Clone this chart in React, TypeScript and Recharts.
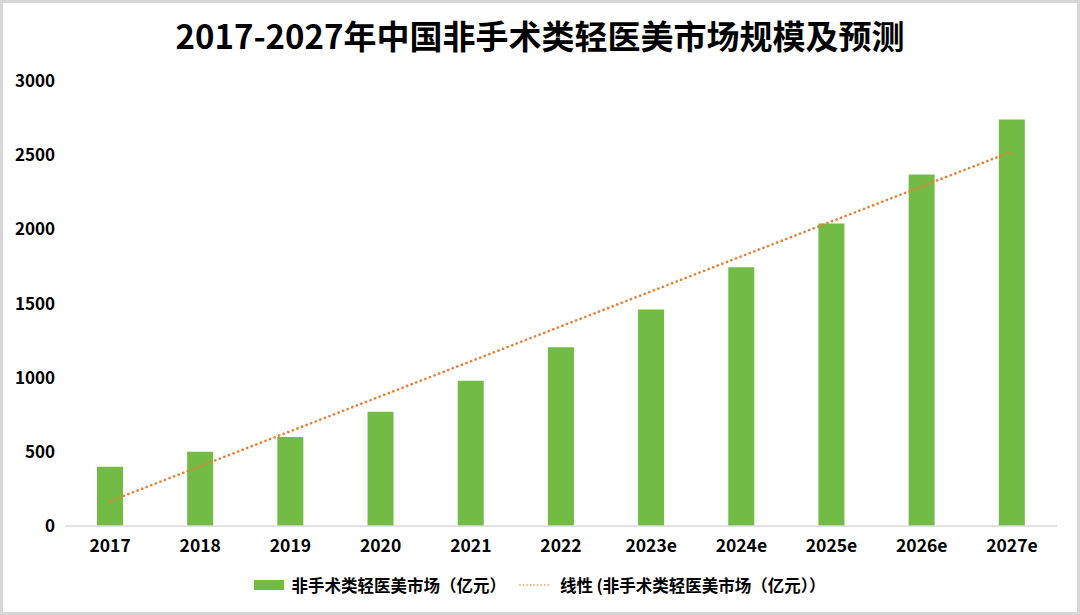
import { Bar, ComposedChart, Line, XAxis, YAxis } from "recharts";

const years = ["2017", "2018", "2019", "2020", "2021", "2022", "2023e", "2024e", "2025e", "2026e", "2027e"];
const marketSize = [400, 500, 600, 770, 980, 1205, 1460, 1745, 2040, 2370, 2740];
const yTicks = [0, 500, 1000, 1500, 2000, 2500, 3000];

const seriesName = "非手术类轻医美市场（亿元）";
const trendName = "线性 (非手术类轻医美市场（亿元））";

// linear trendline (least squares), like the spreadsheet's "线性" trend
const n = marketSize.length;
const meanX = (n - 1) / 2;
const meanY = marketSize.reduce((a, b) => a + b, 0) / n;
let sxy = 0;
let sxx = 0;
marketSize.forEach((v, i) => {
  sxy += (i - meanX) * (v - meanY);
  sxx += (i - meanX) * (i - meanX);
});
const slope = sxy / sxx;
const intercept = meanY - slope * meanX;

const data = years.map((year, i) => ({
  year,
  value: marketSize[i],
  trend: intercept + slope * i,
}));

const FONT = '"Noto Sans CJK SC", "Noto Sans", sans-serif';
const GREEN = "#72BB45";
const ORANGE = "#ED7D31";

export default function App() {
  return (
    <div style={{ position: "relative", width: 1080, height: 615, background: "#fff", fontFamily: FONT }}>
      <style>{"body{margin:0}"}</style>
      <div
        style={{
          position: "absolute",
          top: 0,
          left: 0,
          width: 1080,
          textAlign: "center",
          lineHeight: "70px",
          fontSize: 33,
          fontWeight: 700,
          color: "#000",
        }}
      >
        2017-2027年中国非手术类轻医美市场规模及预测
      </div>

      <div style={{ position: "absolute", top: 0, left: 0 }}>
        <ComposedChart width={1080} height={615} data={data} margin={{ top: 81, right: 23, bottom: 0, left: 0 }}>
          <XAxis
            dataKey="year"
            height={89}
            tickLine={false}
            tickSize={0}
            tickMargin={14}
            axisLine={{ stroke: "#d9d9d9", strokeWidth: 1.5 }}
            tick={{ fill: "#000", fontSize: 17.5, fontWeight: 700, fontFamily: FONT }}
          />
          <YAxis
            width={65}
            domain={[0, 3000]}
            ticks={yTicks}
            axisLine={false}
            tickLine={false}
            tickSize={0}
            tickMargin={10}
            tick={{ fill: "#000", fontSize: 17, fontWeight: 700, fontFamily: FONT }}
          />
          <Bar dataKey="value" name={seriesName} fill={GREEN} barSize={26} isAnimationActive={false} />
          <Line
            dataKey="trend"
            name={trendName}
            type="linear"
            stroke={ORANGE}
            strokeWidth={2.6}
            strokeDasharray="0.1 4.8"
            strokeLinecap="round"
            dot={false}
            activeDot={false}
            isAnimationActive={false}
          />
        </ComposedChart>
      </div>

      {/* Legend */}
      <div
        style={{
          position: "absolute",
          top: 573,
          left: 0,
          width: 1080,
          display: "flex",
          justifyContent: "center",
          alignItems: "center",
          gap: 12,
          fontSize: 16.5,
          fontWeight: 700,
          color: "#000",
          lineHeight: "24px",
        }}
      >
        <div style={{ display: "flex", alignItems: "center", gap: 7 }}>
          <div style={{ width: 30, height: 10, background: GREEN }} />
          <span>{seriesName}</span>
        </div>
        <div style={{ display: "flex", alignItems: "center", gap: 8 }}>
          <svg width={34} height={6}>
            <line x1={2} y1={3} x2={32} y2={3} stroke={ORANGE} strokeWidth={1.5} strokeDasharray="0.1 3.4" strokeLinecap="round" />
          </svg>
          <span>{trendName}</span>
        </div>
      </div>

      <div
        style={{
          position: "absolute",
          inset: 0,
          border: "3px solid #d6d6d6",
          pointerEvents: "none",
        }}
      />
    </div>
  );
}
